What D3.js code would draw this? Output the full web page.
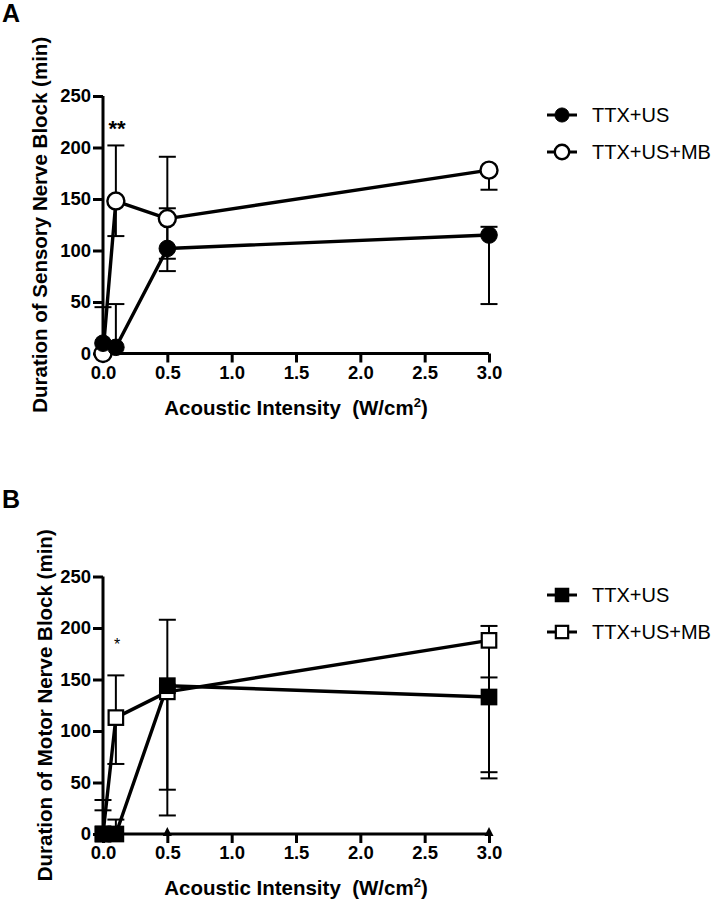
<!DOCTYPE html>
<html>
<head>
<meta charset="utf-8">
<script src="https://cdn.jsdelivr.net/npm/d3@7"></script>
<style>
  html, body { margin: 0; padding: 0; background: #fff; }
  svg { display: block; font-family: "Liberation Sans", Arial, Helvetica, sans-serif; }
</style>
</head>
<body>
<svg id="chart" width="716" height="900"></svg>
<script>
// ---------- data ----------
const intensities = [0, 0.1, 0.5, 3.0];
const xTicks = [0, 0.5, 1.0, 1.5, 2.0, 2.5, 3.0];
const yTicks = [0, 50, 100, 150, 200, 250];
const seriesNames = ["TTX+US", "TTX+US+MB"];

// Panel A – sensory block (min)
const sensoryUS      = [10, 6, 102, 115];
const sensoryUSLow   = [0, 0, 80, 48];
const sensoryUSHigh  = [45, 48, 141, 123];
const sensoryMB      = [0, 148, 131, 178];
const sensoryMBLow   = [0, 114, 92, 159];
const sensoryMBHigh  = [0, 202, 191, 178];

// Panel B – motor block (min)
const motorUS      = [0, 0, 144, 133];
const motorUSLow   = [0, 0, 18, 54];
const motorUSHigh  = [33, 14, 208, 152];
const motorMB      = [0, 113, 138, 188];
const motorMBLow   = [0, 68, 43, 60];
const motorMBHigh  = [23, 154, 138, 202];
const motorAxisMarks = [0.5, 3.0];

// ---------- drawing ----------
const svg = d3.select("#chart");

function drawPanel(cfg) {
  const g = svg.append("g");
  const x = d3.scaleLinear().domain([0, 3]).range([103, 489]);
  const y = d3.scaleLinear().domain([0, 250]).range([cfg.y0, cfg.y0 - 257.5]);

  // panel letter
  g.append("text").attr("x", 2).attr("y", cfg.letterY)
    .attr("font-size", 25).attr("font-weight", "bold").text(cfg.letter);

  // axes
  const yAxis = d3.axisLeft(y).tickValues(yTicks).tickSize(10).tickPadding(2).tickFormat(d3.format("d"));
  const gy = g.append("g").attr("transform", "translate(103,0)").call(yAxis);
  const xAxis = d3.axisBottom(x).tickValues(xTicks).tickSize(9).tickPadding(3).tickFormat(d3.format(".1f"));
  const gx = g.append("g").attr("transform", `translate(0,${cfg.y0})`).call(xAxis);
  [gx, gy].forEach(a => {
    a.select(".domain").attr("stroke", "#000").attr("stroke-width", 3);
    a.selectAll(".tick line").attr("stroke", "#000").attr("stroke-width", 3);
    a.selectAll(".tick text").attr("fill", "#000").attr("font-size", 18.5)
      .attr("font-weight", "bold").attr("font-family", "Liberation Sans, Arial, sans-serif");
  });
  gy.select(".domain").attr("d", `M-0,${y(0)}V${y(250)}`);
  gx.select(".domain").attr("d", `M${x(0)},0H${x(3)}`);

  // axis titles
  g.append("text")
    .attr("transform", `translate(${cfg.yLabelX},${(y(0) + y(250)) / 2}) rotate(-90)`)
    .attr("text-anchor", "middle").attr("font-size", 20.5).attr("font-weight", "bold")
    .text(cfg.yLabel);
  const xl = g.append("text").attr("x", 296).attr("y", cfg.y0 + 61)
    .attr("text-anchor", "middle").attr("font-size", 20.5).attr("font-weight", "bold");
  xl.append("tspan").text("Acoustic Intensity\u00a0\u00a0(W/cm");
  xl.append("tspan").attr("font-size", 13).attr("dy", -8).text("2");
  xl.append("tspan").attr("dy", 8).text(")");

  // extra axis marks (triangles)
  (cfg.axisMarks || []).forEach(v => {
    g.append("path")
      .attr("d", `M${x(v) - 4.5},${cfg.y0 + 2}L${x(v)},${cfg.y0 - 7}L${x(v) + 4.5},${cfg.y0 + 2}Z`)
      .attr("fill", "#000");
  });

  const series = cfg.series;
  // lines
  const line = d3.line().x((d, i) => x(intensities[i])).y(d => y(d));
  series.forEach(s => {
    g.append("path").datum(s.mean).attr("d", line)
      .attr("fill", "none").attr("stroke", "#000").attr("stroke-width", 3.4)
      .attr("stroke-linejoin", "round");
  });
  // error bars
  series.forEach(s => {
    intensities.forEach((xi, i) => {
      const cx = x(xi);
      const lo = s.low[i], hi = s.high[i], m = s.mean[i];
      if (hi > m) {
        g.append("line").attr("x1", cx).attr("x2", cx).attr("y1", y(m)).attr("y2", y(hi))
          .attr("stroke", "#000").attr("stroke-width", 2);
        g.append("line").attr("x1", cx - 8.5).attr("x2", cx + 8.5).attr("y1", y(hi)).attr("y2", y(hi))
          .attr("stroke", "#000").attr("stroke-width", 2);
      }
      if (lo < m) {
        g.append("line").attr("x1", cx).attr("x2", cx).attr("y1", y(m)).attr("y2", y(lo))
          .attr("stroke", "#000").attr("stroke-width", 2);
        g.append("line").attr("x1", cx - 8.5).attr("x2", cx + 8.5).attr("y1", y(lo)).attr("y2", y(lo))
          .attr("stroke", "#000").attr("stroke-width", 2);
      }
    });
  });
  // markers: MB (open) first, US (filled) on top
  [series[1], series[0]].forEach(s => {
    s.mean.forEach((v, i) => drawMarker(g, cfg.shape, x(intensities[i]), y(v), s.filled));
  });

  // significance
  g.append("text").attr("x", 117).attr("y", cfg.starY).attr("text-anchor", "middle")
    .attr("font-size", cfg.starSize).attr("font-weight", cfg.starWeight).text(cfg.star);

  // legend
  series.forEach((s, i) => {
    const ly = cfg.legendY[i];
    g.append("line").attr("x1", 547).attr("x2", 577).attr("y1", ly).attr("y2", ly)
      .attr("stroke", "#000").attr("stroke-width", 3);
    drawMarker(g, cfg.shape, 562, ly, s.filled, 0.85);
    g.append("text").attr("x", 592).attr("y", ly).attr("dy", "0.36em")
      .attr("font-size", 20).text(seriesNames[i]);
  });
}

function drawMarker(g, shape, cx, cy, filled, k = 1) {
  if (shape === "circle") {
    g.append("circle").attr("cx", cx).attr("cy", cy).attr("r", (filled ? 8.3 : 8.5) * k)
      .attr("fill", filled ? "#000" : "#fff").attr("stroke", "#000").attr("stroke-width", filled ? 1 : 2.4);
  } else {
    const s = 14.5 * k;
    g.append("rect").attr("x", cx - s / 2).attr("y", cy - s / 2).attr("width", s).attr("height", s)
      .attr("fill", filled ? "#000" : "#fff").attr("stroke", "#000").attr("stroke-width", 2.2);
  }
}

drawPanel({
  letter: "A", letterY: 22, y0: 353.5, yLabelX: 47,
  yLabel: "Duration of Sensory Nerve Block (min)",
  shape: "circle",
  series: [
    { mean: sensoryUS, low: sensoryUSLow, high: sensoryUSHigh, filled: true },
    { mean: sensoryMB, low: sensoryMBLow, high: sensoryMBHigh, filled: false }
  ],
  star: "**", starY: 136, starSize: 22, starWeight: "bold",
  legendY: [115, 152]
});

drawPanel({
  letter: "B", letterY: 508, y0: 834, yLabelX: 52,
  yLabel: "Duration of Motor Nerve Block (min)",
  shape: "square",
  series: [
    { mean: motorUS, low: motorUSLow, high: motorUSHigh, filled: true },
    { mean: motorMB, low: motorMBLow, high: motorMBHigh, filled: false }
  ],
  axisMarks: motorAxisMarks,
  star: "*", starY: 650, starSize: 16, starWeight: "normal",
  legendY: [595, 632]
});
</script>
</body>
</html>
